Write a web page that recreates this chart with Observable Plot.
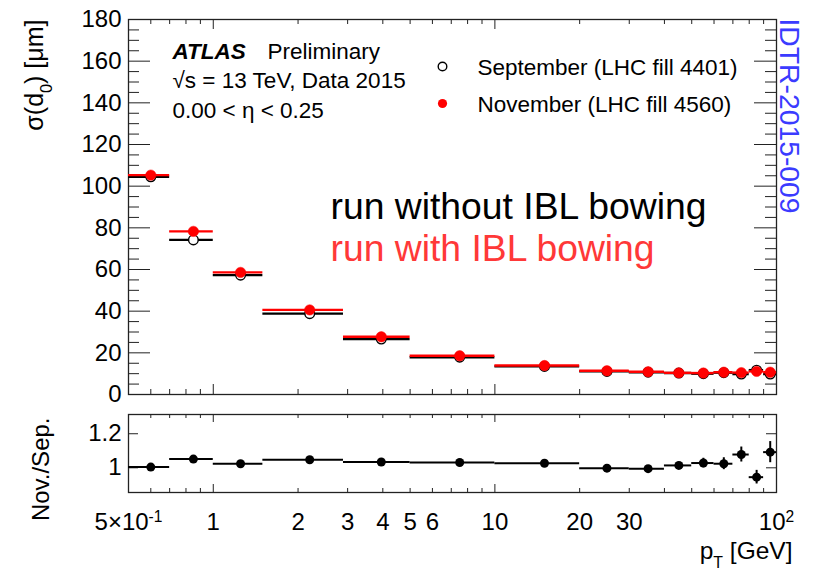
<!DOCTYPE html>
<html><head><meta charset="utf-8">
<script src="https://cdn.jsdelivr.net/npm/d3@7"></script>
<script src="https://cdn.jsdelivr.net/npm/@observablehq/plot@0.6"></script>
<style>
html,body{margin:0;padding:0;background:#fff;}
#chart{position:relative;width:816px;height:573px;overflow:hidden;background:#fff;}
#chart svg{display:block;}
</style></head><body><div id="chart"></div>
<script>
// ---- data ----
const binLo     = [0.5, 0.7, 1.0, 1.5, 2.9, 5, 10, 20, 30, 40, 50, 60, 70, 80, 90];
const binHi     = [0.7, 1.0, 1.5, 2.9, 5, 10, 20, 30, 40, 50, 60, 70, 80, 90, 100];
const ptCenter  = [0.6, 0.85, 1.25, 2.2, 3.95, 7.5, 15, 25, 35, 45, 55, 65, 75, 85, 95];
const sepSigma  = [104.5, 74.2, 57.3, 38.8, 26.6, 17.9, 13.5, 11.1, 10.7, 10.3, 10.0, 10.5, 9.8, 11.7, 9.8];
const novSigma  = [105.3, 78.3, 58.6, 40.6, 27.7, 18.6, 13.9, 11.4, 10.9, 10.4, 10.3, 10.7, 10.5, 11.1, 10.7];
const ratio     = [1.004, 1.051, 1.024, 1.047, 1.034, 1.031, 1.027, 0.998, 0.995, 1.014, 1.028, 1.024, 1.078, 0.945, 1.092];
const ratioErr  = [0.004, 0.005, 0.005, 0.005, 0.005, 0.006, 0.008, 0.010, 0.012, 0.018, 0.028, 0.035, 0.044, 0.040, 0.062];

const xTickValues = [0.5, 1, 2, 3, 4, 5, 6, 10, 20, 30, 100];
const xTickLabels = ["5×10^{-1}", "1", "2", "3", "4", "5", "6", "10", "20", "30", "10^{2}"];
const xMajorTicks = [1, 10];
const xMinorTicks = [0.6, 0.7, 0.8, 0.9, 2, 3, 4, 5, 6, 7, 8, 9, 20, 30, 40, 50, 60, 70, 80, 90];
const yTopLabels  = [0, 20, 40, 60, 80, 100, 120, 140, 160, 180];
const yTopMinor   = d3.range(5, 180, 5).filter(v => v % 20 !== 0);
const yRatioTicks = [1, 1.2];
const yRatioLabels = ["1", "1.2"];

const rows = binLo.map((lo, i) => ({
  lo, hi: binHi[i], x: ptCenter[i], sep: sepSigma[i], nov: novSigma[i], ratio: ratio[i], err: ratioErr[i]
}));

// ---- layout ----
const FONT = "'Liberation Sans', Arial, Helvetica, sans-serif";
const W = 816, ML = 128, MR = 40, PW = W - ML - MR;
const TH = 400, TMT = 19, TMB = 6, TPH = TH - TMT - TMB;
const BH = 173, BMT = 14, BMB = 81, BPH = BH - BMT - BMB;
const RED = "#ff0000", FRAME = "#222";
const LEG = 22.5;

function xTicks(values, len, ph, stroke) {
  return [
    Plot.tickX(values, {x: d => d, insetTop: ph - len, stroke, strokeWidth: 1}),
    Plot.tickX(values, {x: d => d, insetBottom: ph - len, stroke, strokeWidth: 1})
  ];
}
function yTicks(values, len, stroke) {
  return [
    Plot.tickY(values, {y: d => d, insetRight: PW - len, stroke, strokeWidth: 1}),
    Plot.tickY(values, {y: d => d, insetLeft: PW - len, stroke, strokeWidth: 1})
  ];
}

const topPlot = Plot.plot({
  width: W, height: TH,
  marginLeft: ML, marginRight: MR, marginTop: TMT, marginBottom: TMB,
  style: {fontFamily: FONT, fontSize: "24px", background: "white", color: "black", overflow: "visible"},
  x: {type: "log", domain: [0.5, 100], axis: null},
  y: {domain: [0, 180], ticks: yTopLabels, tickSize: 0, tickPadding: 7, label: null, tickFormat: d => String(d)},
  marks: [
    ...yTicks(yTopLabels.slice(1, -1), 22, FRAME),
    ...yTicks(yTopMinor, 11, FRAME),
    ...xTicks(xMajorTicks, 10, TPH, FRAME),
    ...xTicks(xMinorTicks, 5, TPH, FRAME),
    Plot.frame({stroke: FRAME, strokeWidth: 1.3}),
    Plot.ruleY(rows, {y: "sep", x1: "lo", x2: "hi", stroke: "black", strokeWidth: 2.4}),
    Plot.dot(rows, {x: "x", y: "sep", r: 4.8, fill: "white", stroke: "black", strokeWidth: 1.4}),
    Plot.ruleY(rows, {y: "nov", x1: "lo", x2: "hi", stroke: RED, strokeWidth: 2.4}),
    Plot.dot(rows, {x: "x", y: "nov", r: 5.2, fill: RED, stroke: RED, strokeWidth: 0.5}),
    // axis title
    Plot.text(["σ(d_{0}) [μm]"], {text: d => d, frameAnchor: "top-left", rotate: -90, textAnchor: "end", dx: -103, dy: 0, fontSize: 25}),
    // ATLAS block
    Plot.text(["ATLAS"], {text: d => d, frameAnchor: "top-left", textAnchor: "start", lineAnchor: "bottom", dx: 44, dy: 39, fontSize: LEG, fontWeight: "bold", fontStyle: "italic"}),
    Plot.text(["Preliminary"], {text: d => d, frameAnchor: "top-left", textAnchor: "start", lineAnchor: "bottom", dx: 139, dy: 39, fontSize: LEG}),
    Plot.text(["√s = 13 TeV, Data 2015"], {text: d => d, frameAnchor: "top-left", textAnchor: "start", lineAnchor: "bottom", dx: 44, dy: 68, fontSize: LEG}),
    Plot.text(["0.00 < η < 0.25"], {text: d => d, frameAnchor: "top-left", textAnchor: "start", lineAnchor: "bottom", dx: 44, dy: 98, fontSize: LEG}),
    // legend
    Plot.dot([0], {frameAnchor: "top-left", dx: 314, dy: 47, r: 4.3, fill: "white", stroke: "black", strokeWidth: 1.4}),
    Plot.text(["September (LHC fill 4401)"], {text: d => d, frameAnchor: "top-left", textAnchor: "start", lineAnchor: "bottom", dx: 349, dy: 55, fontSize: LEG}),
    Plot.dot([0], {frameAnchor: "top-left", dx: 314, dy: 84, r: 4.6, fill: RED}),
    Plot.text(["November (LHC fill 4560)"], {text: d => d, frameAnchor: "top-left", textAnchor: "start", lineAnchor: "bottom", dx: 349, dy: 92, fontSize: LEG}),
    // annotations
    Plot.text(["run without IBL bowing"], {text: d => d, frameAnchor: "top-left", textAnchor: "start", lineAnchor: "bottom", dx: 202, dy: 199, fontSize: 37.3, fill: "black"}),
    Plot.text(["run with IBL bowing"], {text: d => d, frameAnchor: "top-left", textAnchor: "start", lineAnchor: "bottom", dx: 202, dy: 241, fontSize: 37.3, fill: "#ff3838"}),
    Plot.text(["IDTR-2015-009"], {text: d => d, frameAnchor: "top-right", rotate: 90, textAnchor: "start", lineAnchor: "middle", dx: 13, dy: -1, fontSize: 28.3, fill: "#3b3bff"})
  ]
});

const bottomPlot = Plot.plot({
  width: W, height: BH,
  marginLeft: ML, marginRight: MR, marginTop: BMT, marginBottom: BMB,
  style: {fontFamily: FONT, fontSize: "24px", background: "white", color: "black", overflow: "visible"},
  x: {type: "log", domain: [0.5, 100], axis: null},
  y: {domain: [0.855, 1.313], ticks: yRatioTicks, tickSize: 0, tickPadding: 7, label: null,
      tickFormat: d => yRatioLabels[yRatioTicks.indexOf(d)]},
  marks: [
    ...yTicks(yRatioTicks, 10, FRAME),
    ...xTicks(xMajorTicks, 8, BPH, FRAME),
    ...xTicks(xMinorTicks, 4, BPH, FRAME),
    Plot.frame({stroke: FRAME, strokeWidth: 1.3}),
    Plot.ruleY(rows, {y: "ratio", x1: "lo", x2: "hi", stroke: "black", strokeWidth: 2}),
    Plot.ruleX(rows, {x: "x", y1: d => d.ratio - d.err, y2: d => d.ratio + d.err, stroke: "black", strokeWidth: 2}),
    Plot.dot(rows, {x: "x", y: "ratio", r: 4.5, fill: "black"}),
    // x tick labels
    Plot.text(xTickValues, {x: d => d, text: (d, i) => xTickLabels[i], frameAnchor: "bottom", lineAnchor: "top", dy: 20, fontSize: 24}),
    Plot.text(["Nov./Sep."], {text: d => d, frameAnchor: "top-left", rotate: -90, textAnchor: "end", dx: -97, dy: 3, fontSize: 24}),
    Plot.text(["p_{T} [GeV]"], {text: d => d, frameAnchor: "bottom-right", textAnchor: "end", lineAnchor: "bottom", dx: 16, dy: 66, fontSize: 24.5})
  ]
});

const chart = document.getElementById("chart");
chart.appendChild(topPlot);
chart.appendChild(bottomPlot);

// sub/superscripts written as _{..} and ^{..}
const SVGNS = "http://www.w3.org/2000/svg";
function richText(root) {
  root.querySelectorAll("text, tspan").forEach(el => {
    if (el.children.length) return;
    const s = el.textContent;
    if (!/[\^_]\{/.test(s)) return;
    el.textContent = "";
    const re = /([\^_])\{([^}]*)\}/g;
    let last = 0, m;
    while ((m = re.exec(s))) {
      if (m.index > last) el.appendChild(document.createTextNode(s.slice(last, m.index)));
      const t = document.createElementNS(SVGNS, "tspan");
      t.setAttribute("baseline-shift", m[1] === "^" ? "super" : "sub");
      t.setAttribute("font-size", "65%");
      t.textContent = m[2];
      el.appendChild(t);
      last = re.lastIndex;
    }
    if (last < s.length) el.appendChild(document.createTextNode(s.slice(last)));
  });
}
richText(chart);
</script></body></html>
